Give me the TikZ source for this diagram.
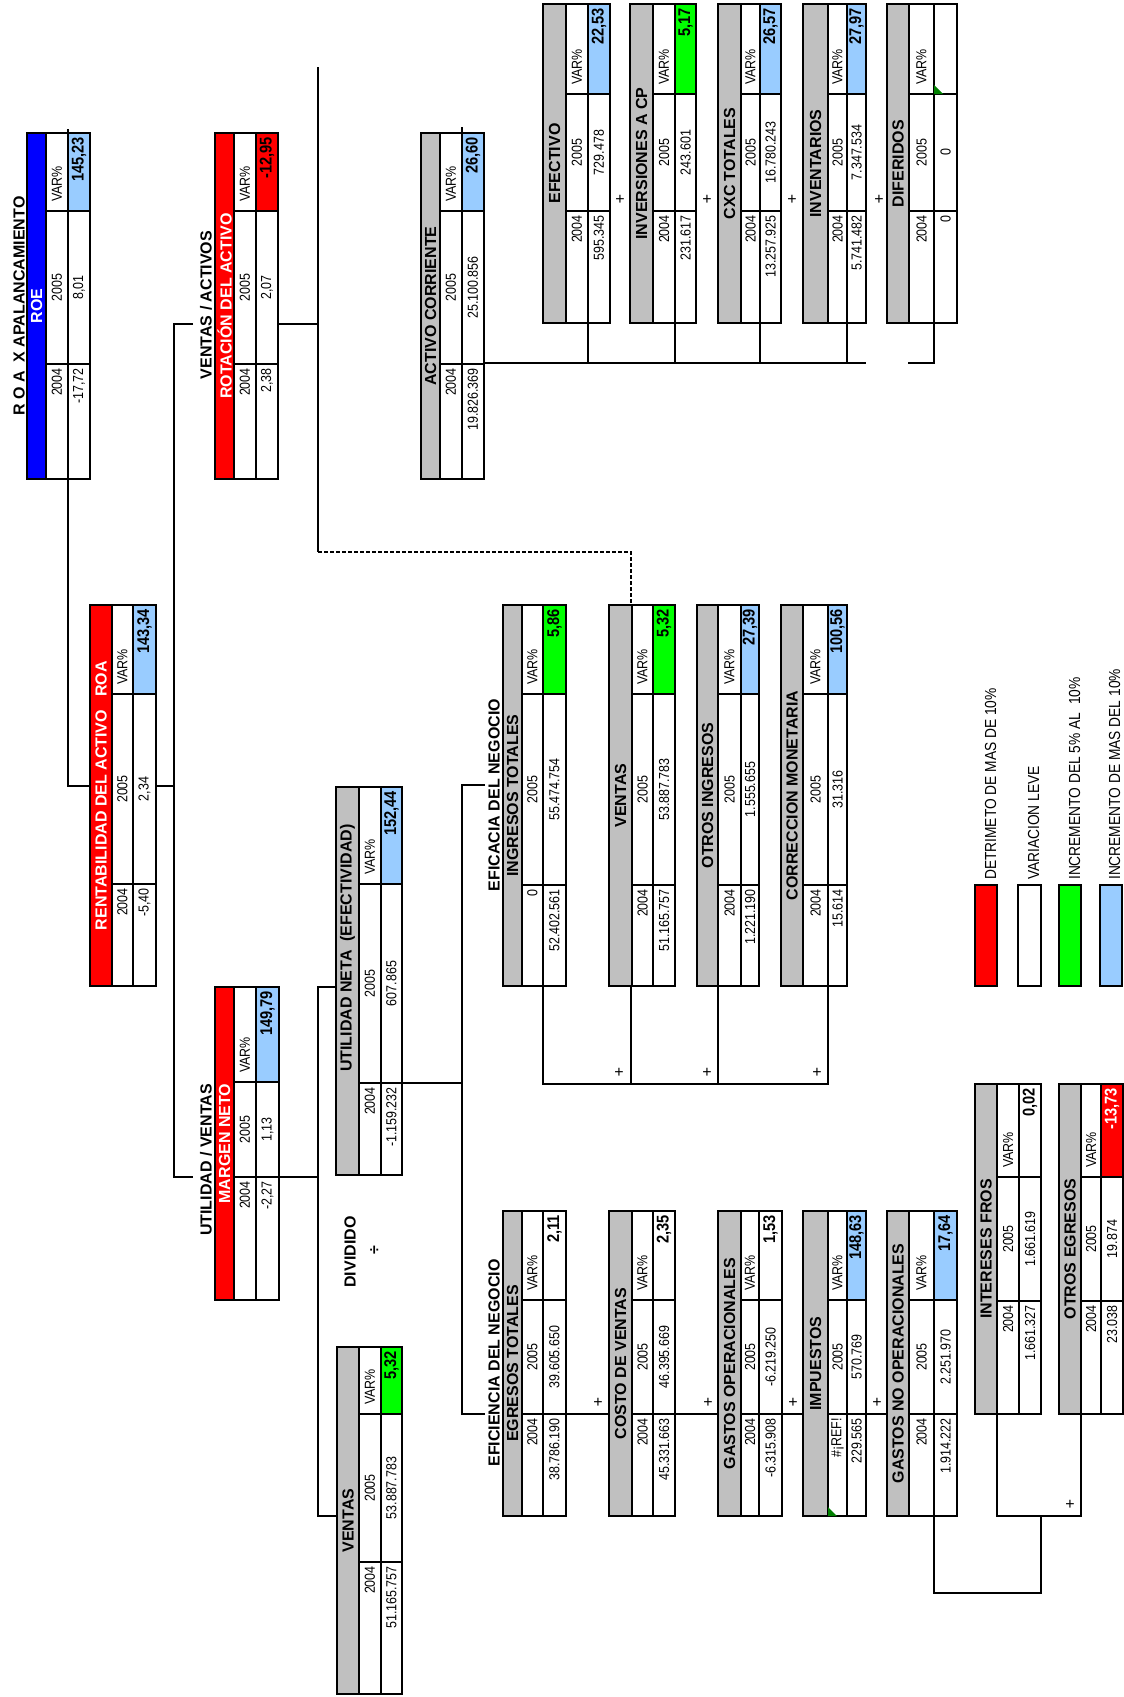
\documentclass[tikz,border=0pt]{standalone}
\usepackage{fontspec}
\setmainfont{Liberation Sans}
\newfontfamily\narrowsans[FakeStretch=0.86]{Liberation Sans}
\definecolor{xred}{RGB}{255,0,0}
\definecolor{xblue}{RGB}{0,0,255}
\definecolor{lblue}{RGB}{153,204,255}
\definecolor{xgreen}{RGB}{0,255,0}
\definecolor{xgray}{RGB}{192,192,192}
\definecolor{tgreen}{RGB}{0,128,0}

% geometry of one table: name, x of the four vertical edges, y of the four horizontal edges
\newcommand\geo[9]{\def\tn{#1}\def\tXa{#2}\def\tXb{#3}\def\tXc{#4}\def\tXd{#5}%
  \def\tYa{#6}\def\tYb{#7}\def\tYc{#8}\def\tYd{#9}\pgfmathsetmacro\tHc{(#6+#9)/2}}
% contents of the table: header fill, header colour, header, 2004 label, 2004 value,
% 2005 value, variation, variation fill, variation colour
\newcommand\cells[9]{%
  \node[name=\tn, fill=white, inner sep=0pt, outer sep=0pt, anchor=north west,
        minimum width={(\tXd-\tXa)*1pt}, minimum height={(\tYd-\tYa)*1pt}] at (\tXa,\tYa) {};
  \fill[#1] (\tXa,\tYa) rectangle (\tXb,\tYd);
  \fill[#8] (\tXc,\tYa) rectangle (\tXd,\tYb);
  \draw[inner] (\tXb,\tYa) -- (\tXb,\tYd) (\tXc,\tYa) -- (\tXc,\tYd)
               (\tXb,\tYb) -- (\tXd,\tYb) (\tXb,\tYc) -- (\tXd,\tYc);
  \draw[outer] (\tXa,\tYa) rectangle (\tXd,\tYd);
  \node[hdr, text=#2] (\tn-h) at ({(\tXa+\tXb)/2},\tHc) {#3};
  \node[txt, anchor=west] (\tn-vl) at ({(\tXb+\tXc)/2},{\tYb-9}) {VAR\%};
  \node[txt] (\tn-l5) at ({(\tXb+\tXc)/2},{(\tYb+\tYc)/2}) {2005};
  \node[txt, anchor=east] (\tn-l4) at ({(\tXb+\tXc)/2},{\tYc+4}) {#4};
  \node[btxt, anchor=east, text=#9] (\tn-v) at ({(\tXc+\tXd)/2},{\tYa+4}) {#7};
  \node[txt] (\tn-v5) at ({(\tXc+\tXd)/2},{(\tYb+\tYc)/2}) {#6};
  \node[txt, anchor=east] (\tn-v4) at ({(\tXc+\tXd)/2},{\tYc+4}) {#5};
}

\tikzset{
  conn/.style={line width=1.1pt, draw=black},
  inner/.style={line width=1.1pt, draw=black},
  outer/.style={line width=1.5pt, draw=black},
  txt/.style={rotate=90, inner sep=0pt, font=\narrowsans\fontsize{14.5}{15}\selectfont},
  btxt/.style={rotate=90, inner sep=0pt, font=\narrowsans\bfseries\fontsize{17}{18}\selectfont},
  hdr/.style={rotate=90, inner sep=0pt, font=\bfseries\fontsize{16}{17}\selectfont},
  legtxt/.style={rotate=90, inner sep=0pt, anchor=base west, font=\narrowsans\fontsize{16}{17}\selectfont},
  plus/.style={inner sep=0pt, font=\fontsize{16}{17}\selectfont},
  legbox/.style={draw=black, line width=1.3pt},
}

\begin{document}
\begin{tikzpicture}[x=1pt,y=-1pt]
\fill[white] (0,0) rectangle (1124,1697);
\useasboundingbox (0,0) rectangle (1124,1697);

% ---------- connectors (drawn first, tables sit on top) ----------
\coordinate (roeA) at (68,129);
\coordinate (roeB) at (68,786);
\coordinate (spineL) at (174,786);
\draw[conn] (roeA) -- (roeB) -- (spineL);
\draw[conn] (193,324) -- (174,324) -- (174,1177) -- (193,1177);
\draw[conn] (278,324) -- (318,324);
\coordinate (actTop) at (318,67);
\coordinate (actBot) at (318,552);
\draw[conn] (actTop) -- (actBot);
\draw[conn, dash pattern=on 4pt off 2pt] (actBot) -- (631,552) -- (631,605);
% current assets
\draw[conn] (462,127) -- (462,363) -- (866,363);
\foreach \xx in {588,675,760,847} \draw[conn] (\xx,323) -- (\xx,363);
\draw[conn] (934,323) -- (934,363) -- (908,363);
% net margin
\draw[conn] (336,987) -- (318,987) -- (318,1516) -- (337,1516);
\draw[conn] (279,1177) -- (318,1177);
% net income
\draw[conn] (402,1083) -- (462,1083);
\draw[conn] (485,785) -- (462,785) -- (462,1414) -- (485,1414);
% income sum
\draw[conn] (543,986) -- (543,1084) -- (828,1084) -- (828,986);
\draw[conn] (631,986) -- (631,1084);
\draw[conn] (718,986) -- (718,1084);
% expense sum
\draw[conn] (566,1414) -- (887,1414);
\draw[conn] (934,1516) -- (934,1593) -- (1041,1593) -- (1041,1516);
\draw[conn] (997,1414) -- (997,1516) -- (1081,1516) -- (1081,1414);

% ---------- tables ----------
\geo{roe}{27}{46}{68}{90}{133}{211}{364}{479}
\cells{xblue}{white}{ROE}{2004}{-17,72}{8,01}{145,23}{lblue}{black}
\geo{rot}{215}{234}{256}{278}{133}{211}{364}{479}
\cells{xred}{white}{ROTACIÓN DEL ACTIVO}{2004}{2,38}{2,07}{-12,95}{xred}{black}
\geo{acorr}{421}{440}{462}{484}{133}{211}{364}{479}
\cells{xgray}{black}{ACTIVO CORRIENTE}{2004}{19.826.369}{25.100.856}{26,60}{lblue}{black}
\geo{efec}{543}{566}{588}{610}{4}{94}{211}{323}
\cells{xgray}{black}{EFECTIVO}{2004}{595.345}{729.478}{22,53}{lblue}{black}
\geo{invcp}{630}{653}{675}{696}{4}{94}{211}{323}
\cells{xgray}{black}{INVERSIONES A CP}{2004}{231.617}{243.601}{5,17}{xgreen}{black}
\geo{cxc}{718}{741}{760}{781}{4}{94}{211}{323}
\cells{xgray}{black}{CXC TOTALES}{2004}{13.257.925}{16.780.243}{26,57}{lblue}{black}
\geo{invent}{803}{828}{847}{866}{4}{94}{211}{323}
\cells{xgray}{black}{INVENTARIOS}{2004}{5.741.482}{7.347.534}{27,97}{lblue}{black}
\geo{dif}{887}{909}{934}{957}{4}{94}{211}{323}
\cells{xgray}{black}{DIFERIDOS}{2004}{0}{0}{}{white}{black}
\fill[tgreen] (934,85) -- (934,94) -- (943,94) -- cycle;

\geo{roa}{90}{112}{133}{156}{605}{694}{884}{986}
\cells{xred}{white}{RENTABILIDAD DEL ACTIVO\ \ \ ROA}{2004}{-5,40}{2,34}{143,34}{lblue}{black}
\geo{mn}{215}{234}{256}{279}{987}{1082}{1177}{1300}
\cells{xred}{white}{MARGEN NETO}{2004}{-2,27}{1,13}{149,79}{lblue}{black}
\geo{un}{336}{359}{381}{402}{787}{884}{1083}{1175}\def\tHc{948}
\cells{xgray}{black}{UTILIDAD NETA\ \ (EFECTIVIDAD)}{2004}{-1.159.232}{607.865}{152,44}{lblue}{black}
\geo{vtas}{337}{359}{381}{402}{1347}{1414}{1562}{1694}
\cells{xgray}{black}{VENTAS}{2004}{51.165.757}{53.887.783}{5,32}{xgreen}{black}

\geo{ing}{503}{522}{543}{566}{605}{694}{885}{986}
\cells{xgray}{black}{INGRESOS TOTALES}{0}{52.402.561}{55.474.754}{5,86}{xgreen}{black}
\geo{vtasb}{609}{632}{653}{675}{605}{694}{885}{986}
\cells{xgray}{black}{VENTAS}{2004}{51.165.757}{53.887.783}{5,32}{xgreen}{black}
\geo{oing}{697}{718}{741}{759}{605}{694}{885}{986}
\cells{xgray}{black}{OTROS INGRESOS}{2004}{1.221.190}{1.555.655}{27,39}{lblue}{black}
\geo{corr}{781}{803}{828}{847}{605}{694}{885}{986}
\cells{xgray}{black}{CORRECCION MONETARIA}{2004}{15.614}{31.316}{100,56}{lblue}{black}

\geo{egr}{503}{522}{543}{566}{1211}{1300}{1414}{1516}
\cells{xgray}{black}{EGRESOS TOTALES}{2004}{38.786.190}{39.605.650}{2,11}{white}{black}
\geo{cv}{609}{632}{653}{675}{1211}{1300}{1414}{1516}
\cells{xgray}{black}{COSTO DE VENTAS}{2004}{45.331.663}{46.395.669}{2,35}{white}{black}
\geo{gop}{718}{741}{759}{782}{1211}{1300}{1414}{1516}
\cells{xgray}{black}{GASTOS OPERACIONALES}{2004}{-6.315.908}{-6.219.250}{1,53}{white}{black}
\geo{imp}{803}{828}{847}{866}{1211}{1300}{1414}{1516}
\cells{xgray}{black}{IMPUESTOS}{\#¡REF!}{229.565}{570.769}{148,63}{lblue}{black}
\fill[tgreen] (828,1507) -- (828,1516) -- (837,1516) -- cycle;
\geo{gnop}{887}{909}{934}{957}{1211}{1300}{1414}{1516}
\cells{xgray}{black}{GASTOS NO OPERACIONALES}{2004}{1.914.222}{2.251.970}{17,64}{lblue}{black}
\geo{intf}{975}{997}{1019}{1041}{1084}{1177}{1301}{1414}
\cells{xgray}{black}{INTERESES FROS}{2004}{1.661.327}{1.661.619}{0,02}{white}{black}
\geo{oegr}{1059}{1081}{1101}{1123}{1084}{1177}{1301}{1414}
\cells{xgray}{black}{OTROS EGRESOS}{2004}{23.038}{19.874}{-13,73}{xred}{white}

% ---------- titles ----------
\node[hdr] (tRoe) at (19,306) {R O A\ \ X APALANCAMIENTO};
\node[hdr] (tRot) at (206,305) {VENTAS / ACTIVOS};
\node[hdr] (tMn) at (206,1160) {UTILIDAD / VENTAS};
\node[hdr] (tEfa) at (494,795) {EFICACIA DEL NEGOCIO};
\node[hdr] (tEfi) at (494,1363) {EFICIENCIA DEL NEGOCIO};
\node[hdr] (tDiv) at (350,1252) {DIVIDIDO};
\node[hdr] (tDivS) at (375,1250) {÷};

% ---------- plus signs ----------
\foreach \px/\py [count=\i] in {620/200,707/200,792/200,879/200,619/1073,707/1073,817/1073,
    598/1403,708/1403,793/1403,877/1403,1070/1505}
  \node[plus] (plus\i) at (\px,\py) {+};

% ---------- legend ----------
\draw[legbox, fill=xred]   (975,885) rectangle (997,986);
\draw[legbox, fill=white]  (1018,885) rectangle (1041,986);
\draw[legbox, fill=xgreen] (1059,885) rectangle (1081,986);
\draw[legbox, fill=lblue]  (1100,885) rectangle (1122,986);
\node[legtxt] (l1) at (996,880) {DETRIMETO DE MAS DE 10\%};
\node[legtxt] (l2) at (1039,880) {VARIACION LEVE};
\node[legtxt] (l3) at (1080,880) {INCREMENTO DEL 5\% AL\ \ 10\%};
\node[legtxt] (l4) at (1120,880) {INCREMENTO DE MAS DEL 10\%};
\end{tikzpicture}
\end{document}
